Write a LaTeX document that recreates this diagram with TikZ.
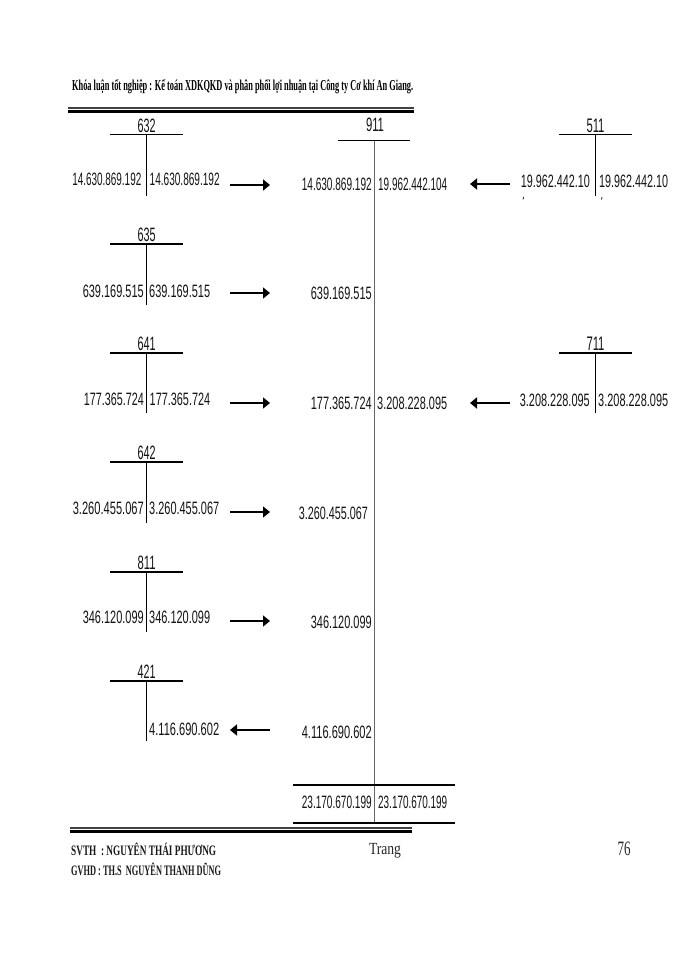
\documentclass[tikz,border=0pt]{standalone}
\usepackage{fontspec}
\usepackage{graphicx}
\setmainfont{Liberation Sans}
\newfontfamily\serb{Liberation Serif Bold}
\newfontfamily\serr[FakeStretch=0.8]{Liberation Serif}
\usetikzlibrary{arrows.meta}
\newcommand{\amtbox}[2]{\resizebox{#1pt}{12.5pt}{#2}}
\tikzset{
 amt/.style={inner sep=0pt,text=black!92},
 acct/.style={inner sep=0pt,text=black!92},
 bar/.style={draw=black},
 stem/.style={draw=black,line width=0.8pt},
 arr/.style={draw=black,-{Triangle[length=7pt,width=11pt]}},
 thinrule/.style={draw=black!75,line width=1.5pt},
 thickrule/.style={draw=black,line width=2.8pt},
 totalrule/.style={draw=black,line width=2pt},
 foot/.style={inner sep=0pt,anchor=west,text=black!90},
}
% #1 name, #2 title, #3 x of stem, #4 title y, #5 bar y, #6 stem bottom, #7 bar width
\newcommand{\taccount}[7]{%
 \node[acct] (#1t) at (#3,#4) {\resizebox{18pt}{13.5pt}{#2}};
 \coordinate (#1a) at (#3-36.5,#5);
 \coordinate (#1b) at (#3+36,#5);
 \coordinate (#1c) at (#3,#5);
 \coordinate (#1d) at (#3,#6);
 \draw[bar,line width=#7pt] (#1a) -- (#1b);
 \draw[stem] (#1c) -- (#1d);
}
% #1 name, #2 from x, #3 to x, #4 y, #5 shaft width
\newcommand{\arrowto}[5]{%
 \coordinate (#1s) at (#2,#4);
 \coordinate (#1e) at (#3,#4);
 \draw[arr,line width=#5pt] (#1s) -- (#1e);
}
\begin{document}
\begin{tikzpicture}[x=1pt,y=-1pt]
\useasboundingbox (0,0) rectangle (700,960);
\fill[white] (0,0) rectangle (700,960);
% header
\node[inner sep=0pt,anchor=west] (hdr) at (72,87) {\resizebox{341pt}{11pt}{\serb Khóa luận tốt nghiệp : Kế toán XDKQKD và phân phối lợi nhuận tại Công ty Cơ khí An Giang.}};
\coordinate (h1) at (68,108); \coordinate (h2) at (414,108);
\coordinate (h3) at (68,111.5); \coordinate (h4) at (414,111.5);
\draw[thinrule] (h1) -- (h2);
\draw[thickrule] (h3) -- (h4);
% T accounts
\taccount{a}{632}{146.7}{126}{135}{196}{1}
\taccount{b}{635}{146.7}{235}{244}{305}{1.2}
\taccount{c}{641}{146.7}{344.3}{353.3}{413}{2}
\taccount{d}{642}{146.7}{453}{462}{523}{1.6}
\taccount{e}{811}{146.7}{563}{572}{632}{1.6}
\taccount{f}{421}{146.7}{672}{681}{741}{1.8}
\taccount{g}{511}{595.5}{126}{135}{196}{1}
\taccount{h}{711}{595.5}{344}{353}{413}{2}
\node[acct] (mt) at (375,125) {\resizebox{18pt}{13.5pt}{911}};
\coordinate (ma) at (338,141); \coordinate (mb) at (410,141);
\coordinate (mc) at (374.5,141); \coordinate (md) at (374.5,822);
\draw[bar,line width=1pt] (ma) -- (mb);
\draw[stem,draw=black!60,line width=1pt] (mc) -- (md);
% amounts left column
\node[amt,anchor=east] (al) at (141.5,179.5) {\amtbox{69}{14.630.869.192}};
\node[amt,anchor=west] (ar) at (149.5,179.5) {\amtbox{70}{14.630.869.192}};
\node[amt,anchor=east] (bl) at (144,291) {\amtbox{61}{639.169.515}};
\node[amt,anchor=west] (br) at (149,291) {\amtbox{61}{639.169.515}};
\node[amt,anchor=east] (cl) at (144,399.5) {\amtbox{60}{177.365.724}};
\node[amt,anchor=west] (cr) at (149.5,399.5) {\amtbox{60.5}{177.365.724}};
\node[amt,anchor=east] (dl) at (144,508) {\amtbox{71}{3.260.455.067}};
\node[amt,anchor=west] (dr) at (149,508) {\amtbox{70}{3.260.455.067}};
\node[amt,anchor=east] (el) at (144,617) {\amtbox{61}{346.120.099}};
\node[amt,anchor=west] (er) at (149,617) {\amtbox{61}{346.120.099}};
\node[amt,anchor=west] (fr) at (149,729) {\amtbox{70}{4.116.690.602}};
% 511 and 711
\node[amt,anchor=east] (gl) at (590,181) {\amtbox{69}{19.962.442.10}};
\node[amt,anchor=west] (gr) at (599,181) {\amtbox{69}{19.962.442.10}};
\node[amt,anchor=east] (hl) at (590,400) {\amtbox{70}{3.208.228.095}};
\node[amt,anchor=west] (hr) at (598,400) {\amtbox{70}{3.208.228.095}};
\coordinate (g1) at (523.5,197); \coordinate (g2) at (523,199.5);
\coordinate (g3) at (602,197); \coordinate (g4) at (601.5,199.5);
\draw[line width=0.7pt] (g1) -- (g2);
\draw[line width=0.7pt] (g3) -- (g4);
% 911 amounts
\node[amt,anchor=east] (m1) at (372,184) {\amtbox{70}{14.630.869.192}};
\node[amt,anchor=west] (m2) at (378,184) {\amtbox{69}{19.962.442.104}};
\node[amt,anchor=east] (m3) at (372,293) {\amtbox{61}{639.169.515}};
\node[amt,anchor=east] (m4) at (372,403) {\amtbox{61}{177.365.724}};
\node[amt,anchor=west] (m5) at (377,403) {\amtbox{70}{3.208.228.095}};
\node[amt,anchor=east] (m6) at (368,513) {\amtbox{69}{3.260.455.067}};
\node[amt,anchor=east] (m7) at (372,622) {\amtbox{61}{346.120.099}};
\node[amt,anchor=east] (m8) at (372,732) {\amtbox{70}{4.116.690.602}};
\node[amt,anchor=east] (m9) at (372,802) {\amtbox{70}{23.170.670.199}};
\node[amt,anchor=west] (m10) at (378,802) {\amtbox{69}{23.170.670.199}};
% arrows
\arrowto{p}{230}{270}{185}{2}
\arrowto{q}{230}{270}{293}{1.5}
\arrowto{r}{230}{270}{403}{1.5}
\arrowto{s}{230}{270}{512}{1.5}
\arrowto{t}{230}{270}{621}{1.5}
\arrowto{u}{270}{230}{730}{1.5}
\arrowto{v}{510}{470}{184}{2}
\arrowto{w}{510}{470}{403}{2}
% total lines
\coordinate (t1) at (293,785); \coordinate (t2) at (455,785);
\coordinate (t3) at (293,822.5); \coordinate (t4) at (455,822.5);
\draw[totalrule] (t1) -- (t2);
\draw[totalrule] (t3) -- (t4);
% footer
\coordinate (k1) at (70,828); \coordinate (k2) at (412,828);
\coordinate (k3) at (70,831.5); \coordinate (k4) at (412,831.5);
\draw[thinrule] (k1) -- (k2);
\draw[thickrule] (k3) -- (k4);
\node[foot] (sv) at (71,849.5) {\resizebox{145pt}{12.5pt}{\serb SVTH\ \ : NGUYÊN THÁI PHƯƠNG}};
\node[foot] (gv) at (71,869.5) {\resizebox{150pt}{12.5pt}{\serb GVHD : TH.S\ \ NGUYÊN THANH DŨNG}};
\node[inner sep=0pt,font=\serr\fontsize{17}{17}\selectfont,text=black!85] (tr) at (385,851) {Trang};
\node[inner sep=0pt,text=black!85] (pg) at (624,849) {\resizebox{13pt}{13.5pt}{\serr 76}};
\end{tikzpicture}
\end{document}
